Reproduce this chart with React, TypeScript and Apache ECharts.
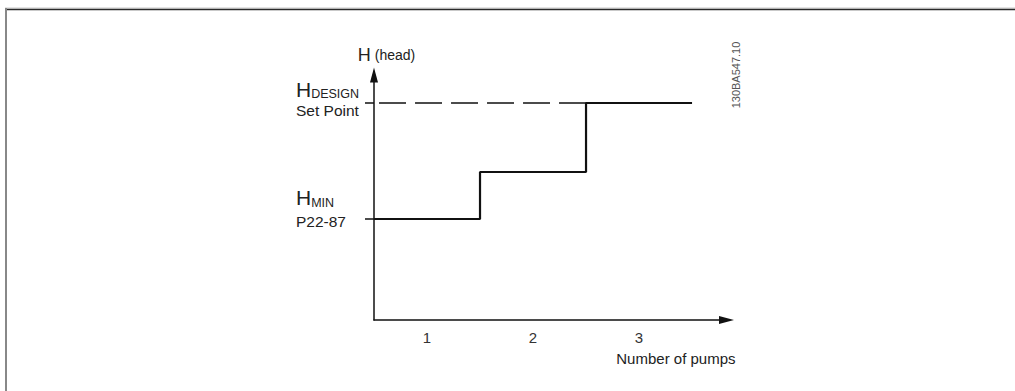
import React, { useEffect, useRef } from "react";
import * as echarts from "echarts";

// ---- data ----
const pumps = [1, 2, 3];
const heads = [10.1, 14.8, 21.7]; // head reached with 1, 2, 3 pumps
const hMin = heads[0];
const hDesign = heads[heads.length - 1];
const xLabels = ["1", "2", "3"];
const xMin = 0.5;
const xMax = 3.825;
const yMin = 0;
const yMax = 24.5;
const docCode = "130BA547.10";

const FONT = "'Liberation Sans', Arial, sans-serif";

export default function App() {
  const ref = useRef<HTMLDivElement>(null);
  useEffect(() => {
    if (!ref.current) return;
    const chart = echarts.init(ref.current, undefined, { renderer: "svg" });
    const stepData = pumps.flatMap((p, i) => [
      [p - 0.5, heads[i]],
      [p + 0.5, heads[i]],
    ]);
    const dashData = [
      [pumps[pumps.length - 1] - 0.5, hDesign],
      [xMin, hDesign],
    ];
    chart.setOption({
      animation: false,
      textStyle: { fontFamily: FONT },
      grid: {
        left: 374,
        top: 75,
        right: 1015 - 726.5,
        bottom: 391 - 320,
        containLabel: false,
        outerBoundsMode: "none",
      },
      xAxis: {
        type: "value",
        min: xMin,
        max: xMax,
        splitLine: { show: false },
        axisLine: {
          show: true,
          symbol: ["none", "triangle"],
          symbolSize: [8, 15],
          lineStyle: { color: "#111", width: 1.5 },
        },
        axisTick: { show: false },
        axisLabel: {
          customValues: pumps,
          formatter: (v: number) => xLabels[pumps.indexOf(v)] ?? "",
          margin: 10,
          fontSize: 15,
          color: "#333",
          fontFamily: FONT,
        },
        name: "Number of pumps",
        nameLocation: "end",
        nameGap: 9,
        nameTextStyle: {
          align: "right",
          verticalAlign: "top",
          padding: [31, 0, 0, 0],
          fontSize: 15,
          color: "#222",
          fontFamily: FONT,
        },
      },
      yAxis: {
        type: "value",
        min: yMin,
        max: yMax,
        splitLine: { show: false },
        axisLine: {
          show: true,
          symbol: ["none", "triangle"],
          symbolSize: [8, 15],
          lineStyle: { color: "#111", width: 1.5 },
        },
        axisTick: {
          show: true,
          customValues: [hMin, hDesign],
          length: 9,
          inside: false,
          lineStyle: { color: "#111", width: 1.5 },
        },
        axisLabel: {
          customValues: [hMin, hDesign],
          align: "left",
          margin: 78,
          color: "#222",
          fontFamily: FONT,
          formatter: (v: number) =>
            v === hDesign
              ? "{h|H}{sub|DESIGN}\n{sp|Set Point}\n{g6| }"
              : "{h2|H}{sub|MIN}\n{sp2|P22-87}\n{g19| }",
          rich: {
            h: { fontSize: 21, lineHeight: 21, color: "#222", fontFamily: FONT },
            h2: { fontSize: 21, lineHeight: 24, color: "#222", fontFamily: FONT },
            sub: {
              fontSize: 12.5,
              lineHeight: 15,
              verticalAlign: "bottom",
              color: "#222",
              fontFamily: FONT,
            },
            sp: { fontSize: 15.5, lineHeight: 21, color: "#222", fontFamily: FONT },
            sp2: { fontSize: 15.5, lineHeight: 24.4, color: "#222", fontFamily: FONT },
            g6: { fontSize: 1, lineHeight: 6 },
            g19: { fontSize: 1, lineHeight: 18.8 },
          },
        },
        name: "{big|H}{small| (head)}",
        nameLocation: "end",
        nameGap: 20,
        nameTextStyle: {
          align: "center",
          verticalAlign: "middle",
          padding: [0, 0, 0, 25],
          rich: {
            big: { fontSize: 18, color: "#222", fontFamily: FONT },
            small: { fontSize: 14, color: "#222", fontFamily: FONT },
          },
        },
      },
      graphic: [
        {
          type: "line",
          shape: { x1: 5, y1: 8, x2: 1015, y2: 8 },
          style: { stroke: "#c8c8c8", lineWidth: 1 },
          silent: true,
        },
        {
          type: "line",
          shape: { x1: 5, y1: 9.5, x2: 1015, y2: 9.5 },
          style: { stroke: "#2a2a2a", lineWidth: 1.5 },
          silent: true,
        },
        {
          type: "line",
          shape: { x1: 6, y1: 8, x2: 6, y2: 391 },
          style: { stroke: "#888", lineWidth: 2 },
          silent: true,
        },
        {
          type: "text",
          x: 736,
          y: 75,
          rotation: Math.PI / 2,
          style: {
            text: docCode,
            align: "center",
            verticalAlign: "middle",
            fontSize: 11,
            fill: "#555",
            fontFamily: FONT,
          },
          silent: true,
        },
      ],
      series: [
        {
          type: "line",
          data: dashData,
          symbol: "none",
          clip: false,
          z: 2,
          lineStyle: { color: "#111", width: 1.3, type: [27, 9] },
        },
        {
          type: "line",
          data: stepData,
          symbol: "none",
          clip: false,
          z: 3,
          lineStyle: { color: "#111", width: 2.2 },
        },
      ],
    });
    return () => chart.dispose();
  }, []);
  return (
    <div
      ref={ref}
      style={{ position: "fixed", left: 0, top: 0, width: 1015, height: 391, background: "#fff" }}
    />
  );
}
